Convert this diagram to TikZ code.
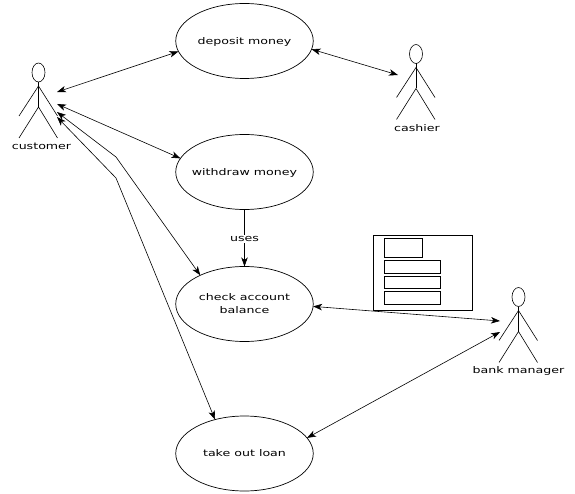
\documentclass[tikz,border=0pt]{standalone}
\usepackage{fontspec}
\setmainfont[FakeStretch=1.37]{DejaVu Sans}
\usetikzlibrary{arrows.meta,shapes.geometric}
\tikzset{
	>={Stealth[length=9pt,width=6.5pt,inset=2.5pt]},
	labeltext/.style={black, font=\fontsize{9.2}{13}\selectfont, inner sep=1pt},
	usecase/.style={draw=black, ellipse, line width=0.7pt, minimum width=137.5pt, minimum height=75pt, labeltext, inner xsep=-20pt, inner ysep=0pt, outer sep=0pt, align=center, text depth=0pt},
	link/.style={black, line width=0.6pt},
	limb/.style={black, line width=0.6pt},
	panel/.style={draw=black, line width=0.7pt, inner sep=0pt, anchor=north west},
	actor/.pic={
		\draw[limb] (0,0) ellipse (6.5 and 9.5);
		\draw[limb] (0,9.5)--(0,34.5);
		\draw[limb] (-19.5,43.5)--(0,13.5)--(19,43.5);
		\draw[limb] (-19.5,65.5)--(0,34.5)--(19,65.5);
	},
}

\begin{document}
\begin{tikzpicture}[x=1pt,y=-1pt]
		\useasboundingbox (0,0) rectangle (575,494);
		
		% use cases
		\node[usecase] (deposit) at (244.5,41) {deposit money};
		\node[usecase] (withdraw) at (244.5,172) {withdraw money};
		\node[usecase] (check) at (244.5,304) {check account\\balance};
		\node[usecase] (loan) at (244.5,453.5) {take out loan};
		
		% actors
		\pic at (38.5,72.5) {actor};
		\pic at (416,54) {actor};
		\pic at (518.5,297) {actor};
		\node[labeltext] (customer) at (41.5,146) {customer};
		\node[labeltext] (cashier) at (417,128.5) {cashier};
		\node[labeltext] (manager) at (518.5,371) {bank manager};
		
		% free ends next to the actors
		\coordinate (cust1) at (57,92);
		\coordinate (cust2) at (57,104);
		\coordinate (cust3) at (57,112);
		\coordinate (cust4) at (57,117);
		\coordinate (bend3) at (116,157);
		\coordinate (bend4) at (116,178);
		\coordinate (cash1) at (398,75);
		\coordinate (bank1) at (500,321);
		\coordinate (bank2) at (500,332);
		
		% form
		\node[panel, minimum width=99.5pt, minimum height=74.5pt] (form) at (372.5,235.5) {};
		\node[panel, minimum width=38pt, minimum height=18pt] (field1) at (384,238.5) {};
		\node[panel, minimum width=56pt, minimum height=12.5pt] (field2) at (384,260) {};
		\node[panel, minimum width=56pt, minimum height=12.5pt] (field3) at (384,275.5) {};
		\node[panel, minimum width=56pt, minimum height=12.5pt] (field4) at (384,291) {};
		
		% connectors
		\draw[link, <->] (cust1)--(deposit.189);
		\draw[link, <->] (cust2)--(withdraw.168);
		\draw[link, <->] (cust3)--(bend3)--(check.147);
		\draw[link, <->] (cust4)--(bend4)--(loan.131);
		\draw[link, <->] (deposit.353)--(cash1);
		\draw[link, <->] (check.358)--(bank1);
		\draw[link, <->] (loan.14)--(bank2);
		\draw[link, ->] (withdraw.south)--(check.north) node[pos=0.5, labeltext, fill=white, yshift=-1pt] (uses) {uses};
	\end{tikzpicture}
\end{document}
